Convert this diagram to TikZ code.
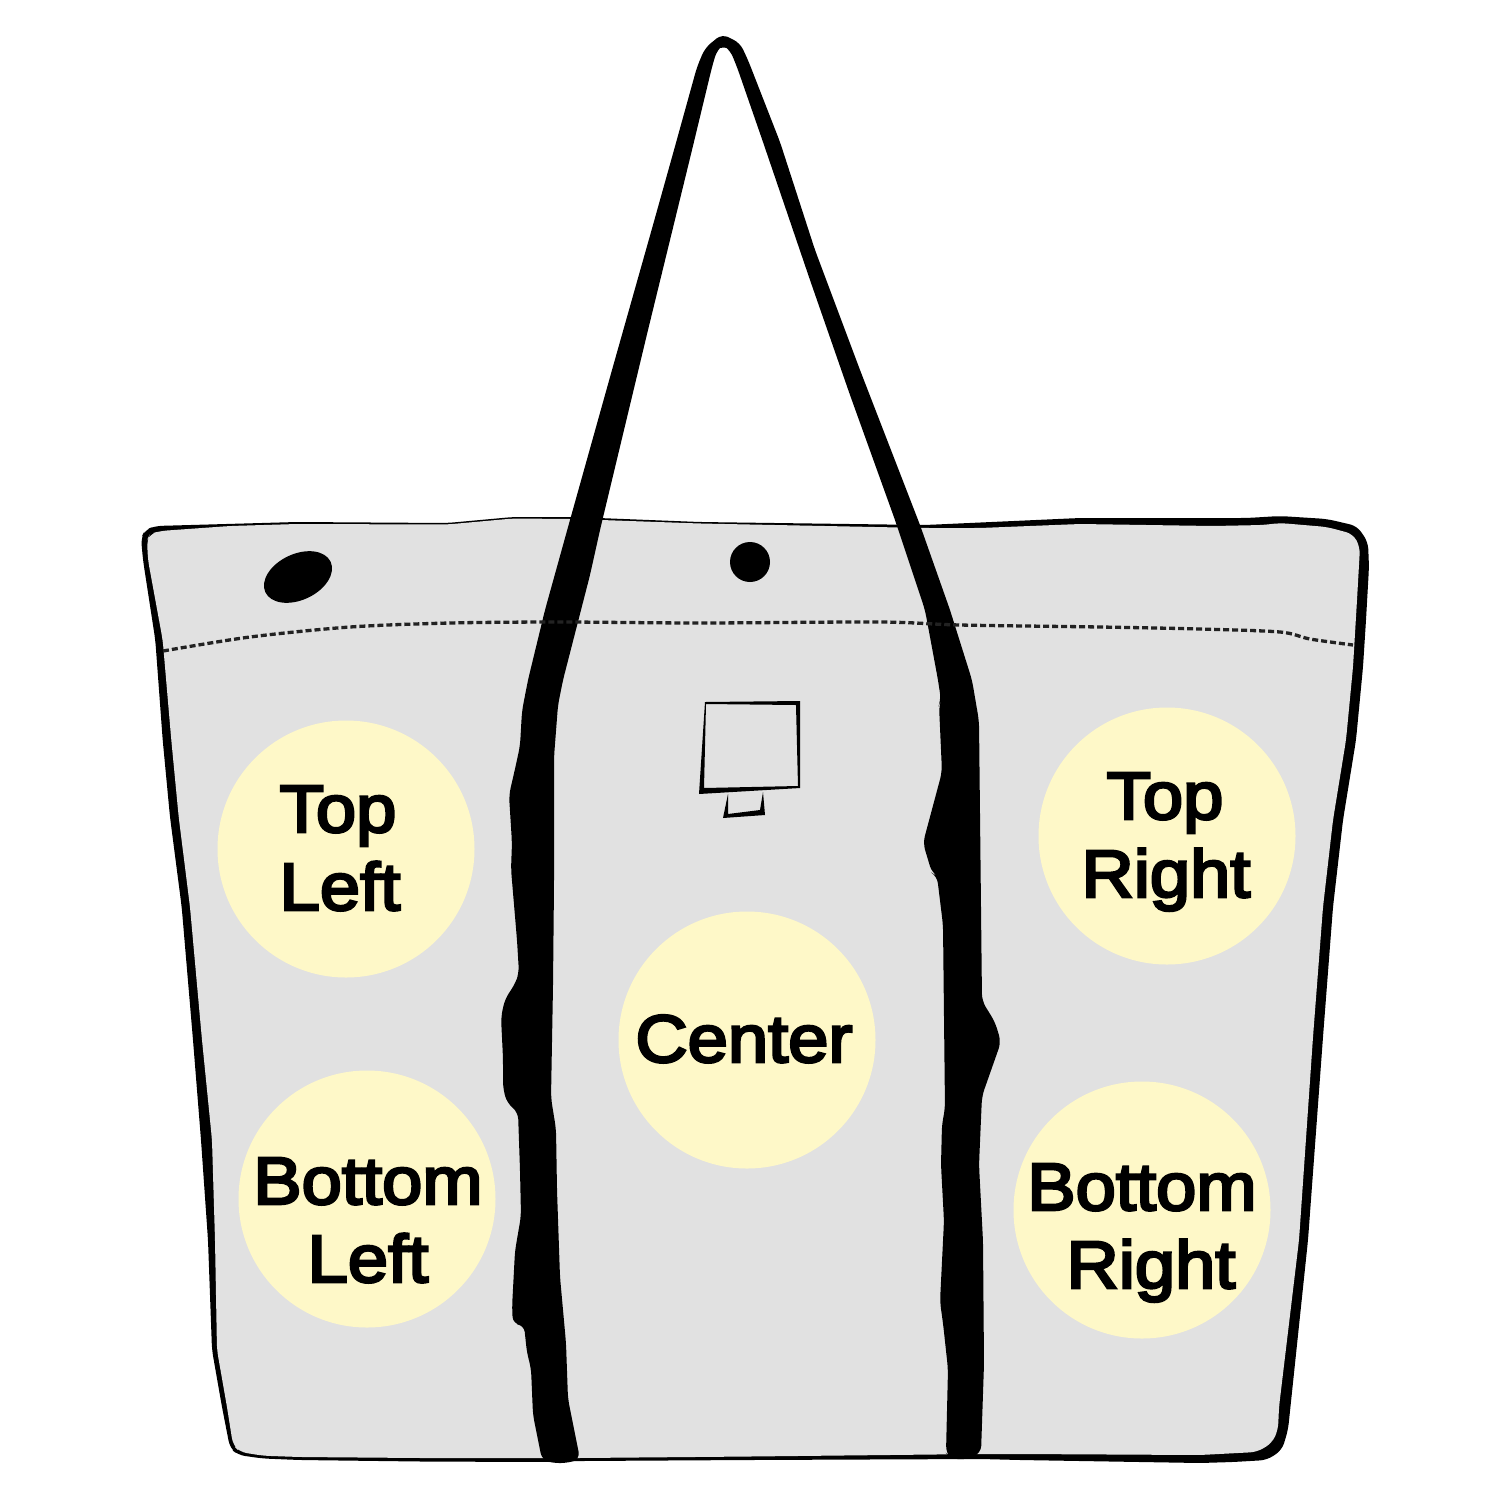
\documentclass[tikz,border=0pt]{standalone}
\usepackage{fontspec}
\newfontfamily\lab[FakeBold=4,FakeStretch=1.08]{Liberation Sans}
\definecolor{baggray}{HTML}{E1E1E1}
\definecolor{spot}{HTML}{FEF8C8}
\definecolor{seam}{HTML}{222222}
\tikzset{
  spotc/.style={circle,fill=spot,draw=none,minimum size=257pt,inner sep=0pt},
  lbl/.style={font=\lab\fontsize{67}{78}\selectfont,text=black,anchor=base,inner sep=0pt},
  soft/.style={rounded corners=7pt},
}
\begin{document}
\begin{tikzpicture}[x=1pt,y=-1pt]
\useasboundingbox (0,0) rectangle (1500,1500);
% bag outline
\fill[black,soft] (141,538)--(145,530)--(155,526)--(297,522)--(447,523)--(513,517)--(573,517)--(700,522)--(925,525)--(1080,518)--(1247,518)--(1280,516)--(1327,519)--(1357,526)--(1368,542)--(1369,567)--(1366,620)--(1363,667)--(1356,740)--(1343,820)--(1333,907)--(1323,1037)--(1308,1240)--(1288,1430)--(1282,1450)--(1267,1460)--(1233,1462)--(1200,1463)--(1020,1460)--(981,1459)--(750,1460)--(580,1461)--(540,1462)--(420,1461.5)--(300,1460)--(263,1458.5)--(238,1455)--(230,1448)--(222,1407)--(212,1350)--(208,1240)--(201,1140)--(193,1040)--(181.7,907)--(170,817)--(162.7,740)--(155.3,640)--(143,560)--cycle;
\fill[baggray,soft] (147,540)--(150,534)--(160,531)--(230,526)--(297,524)--(447,524.5)--(513,518.5)--(573,519)--(700,523.5)--(925,528)--(980,528)--(1080,524)--(1213,526)--(1263,525)--(1280,523)--(1327,527)--(1353,534)--(1360,547)--(1357,600)--(1353,667)--(1346,740)--(1333,820)--(1323,907)--(1313,1037)--(1299,1240)--(1279,1407)--(1278,1430)--(1272,1443)--(1257,1452)--(1200,1455)--(1020,1454)--(981,1454)--(750,1456.5)--(580,1458)--(540,1458)--(420,1458)--(300,1457)--(263,1455.7)--(240,1452)--(233,1445)--(227,1407)--(217,1350)--(215,1240)--(212,1140)--(202,1040)--(190,907)--(178.7,817)--(171.3,740)--(162.7,640)--(148,560)--cycle;
% holes
\fill[black,rotate around={25:(298,577)}] (298,577) ellipse (36 and 23);
\fill[black] (750,562) circle (20);
% strap
\fill[black,soft] (542,1460)--(552,1463)--(568,1463)--(580,1459)--(568,1399)--(566,1343)--(560,1277)--(557,1190)--(556,1129)--(551,1098)--(553,986)--(554,884)--(554,757)--(558,705)--(563,680)--(590,575)--(600,530)--(648,330)--(692,150)--(712,67)--(717,50)--(723,45)--(730,50)--(737,67)--(763,142)--(810,280)--(850,395)--(895,520)--(925,610)--(938,680)--(941,700)--(939,705)--(942,772)--(923,843)--(932,873)--(937,876)--(943,925)--(945,1109)--(942,1124)--(941,1165)--(944,1221)--(940,1302)--(943,1323)--(948,1369)--(946,1453)--(950,1458)--(965,1460)--(981,1453)--(984,1364)--(983,1241)--(979,1165)--(982,1096)--(1001,1042)--(995,1022)--(982,1001)--(979,721)--(972,680)--(950,610)--(920,525)--(860,370)--(815,250)--(780,142)--(748,60)--(740,43)--(722,34)--(705,48)--(697,67)--(674,150)--(653,225)--(612,370)--(570,520)--(545,610)--(528,680)--(522,711)--(520,746)--(515,769)--(509,795)--(512,843)--(511,869)--(517,940)--(519,973)--(515,984)--(505,999)--(501,1017)--(503,1058)--(503,1088)--(507,1103)--(518,1112)--(520,1170)--(521,1216)--(515,1251)--(512,1308)--(513,1324)--(524,1325)--(527,1353)--(531,1368)--(533,1415)--cycle;
% seam
\draw[seam,line width=3.3pt,dash pattern=on 6pt off 3pt] plot[smooth,tension=0.5] coordinates {(163,651)(250,637)(350,627)(450,623)(560,622)(700,623)(880,622)(960,625)(1100,627)(1200,629)(1280,632)(1310,639)(1353,645)};
% label patch
\fill[black,even odd rule] (705,702)--(800,701)--(800,788)--(699,794)--cycle (706,704)--(796,705)--(798,786)--(704,788)--cycle;
\fill[black] (728,794)--(723,818)--(765,815)--(763,792)--(760,810)--(728,814)--cycle;
% spots
\node[spotc] (tl) at (346,849) {};
\node[spotc] (tr) at (1167,836) {};
\node[spotc] (c) at (747,1040) {};
\node[spotc] (bl) at (367,1199) {};
\node[spotc] (br) at (1142,1210) {};
\node[lbl] (tl1) at (338,832) {Top};
\node[lbl] (tl2) at (340,910) {Left};
\node[lbl] (tr1) at (1165,819) {Top};
\node[lbl] (tr2) at (1166,897) {Right};
\node[lbl] (c1) at (744,1062) {Center};
\node[lbl] (bl1) at (368,1204) {Bottom};
\node[lbl] (bl2) at (368,1282) {Left};
\node[lbl] (br1) at (1142,1210) {Bottom};
\node[lbl] (br2) at (1151,1288) {Right};
\end{tikzpicture}
\end{document}
